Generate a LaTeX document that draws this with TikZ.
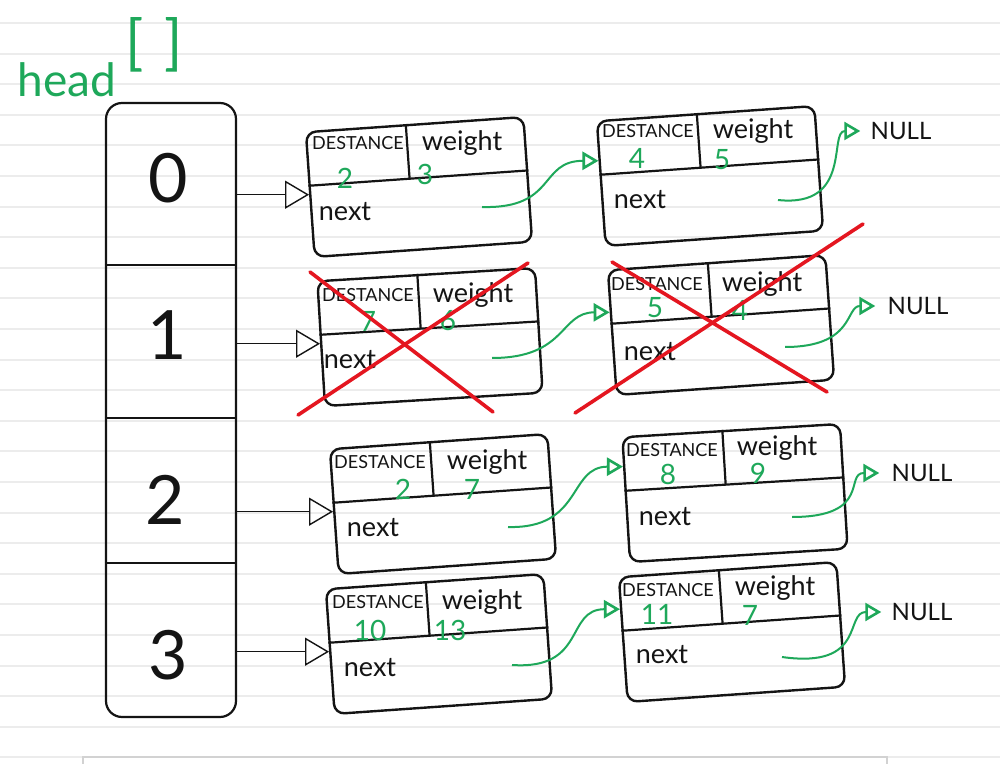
\documentclass[tikz,border=0pt]{standalone}
\usepackage{fontspec}
\setmainfont{Lato}
\usetikzlibrary{arrows.meta,calc}
\definecolor{pen}{RGB}{20,20,20}
\definecolor{grn}{RGB}{30,168,90}
\definecolor{redx}{RGB}{228,22,32}
\definecolor{rulec}{RGB}{236,236,236}
\definecolor{barc}{RGB}{210,210,210}
\tikzset{
 cell/.style={draw=pen, line width=1.2pt, rounded corners=5pt, minimum width=109pt, minimum height=62.5pt, inner sep=0pt},
 arrcol/.style={draw=pen, line width=1.1pt, rounded corners=8pt, minimum width=65pt, minimum height=307pt, inner sep=0pt},
 idx/.style={font=\fontsize{34}{36}\selectfont, text=pen, inner sep=0pt},
 lbl/.style={font=\fontsize{9}{10}\selectfont, text=pen, inner sep=0pt},
 wlbl/.style={font=\fontsize{13.5}{15}\selectfont, text=pen, inner sep=0pt},
 num/.style={font=\fontsize{14}{16}\selectfont, text=grn, inner sep=0pt},
 nulltxt/.style={font=\fontsize{12}{14}\selectfont, text=pen, inner sep=1pt},
 ptr/.style={draw=pen, line width=0.7pt, -{Triangle[open, length=12pt, width=14pt]}},
 link/.style={draw=grn, line width=1pt, -{Triangle[open, length=8pt, width=9pt, line width=1.3pt]}},
 cross/.style={draw=redx, line width=1.8pt, line cap=round},
 divider/.style={draw=pen, line width=1.1pt},
 paperrule/.style={draw=rulec, line width=1pt},
}
\newcommand{\lcell}[3]{%
  \node[cell, rotate=#3] (#1) at (#2) {};
  \coordinate (#1-l) at ($(#1.north west)!0.43!(#1.south west)$);
  \coordinate (#1-r) at ($(#1.north east)!0.43!(#1.south east)$);
  \draw[divider] (#1-l) -- (#1-r);
  \draw[divider] ($(#1.north west)!0.46!(#1.north east)$) -- ($(#1-l)!0.46!(#1-r)$);
}
\begin{document}
\begin{tikzpicture}[x=0.5pt, y=-0.5pt]
\useasboundingbox (0,0) rectangle (1000,764);
\fill[white] (0,0) rectangle (1000,764);
% ruled paper
\foreach \k in {0,...,24} \draw[paperrule] (0,{23+30.6*\k}) -- (1000,{23+30.6*\k});

% title
\node[text=grn, font=\fontsize{23}{25}\selectfont, anchor=base west, inner sep=0pt] (head) at (17,97) {head\hspace{5pt}{\fontsize{30}{30}\selectfont\raisebox{0.55em}{[\hspace{10pt}]}}};

% array column
\node[arrcol] (arr) at (171,410) {};
\draw[divider] ($(arr.north west)!0.265!(arr.south west)$) -- ($(arr.north east)!0.265!(arr.south east)$);
\draw[divider] ($(arr.north west)!0.513!(arr.south west)$) -- ($(arr.north east)!0.513!(arr.south east)$);
\draw[divider] ($(arr.north west)!0.748!(arr.south west)$) -- ($(arr.north east)!0.748!(arr.south east)$);
\node[idx] (i0) at (168,178) {0};
\node[idx] (i1) at (167,335) {1};
\node[idx] (i2) at (165,500) {2};
\node[idx] (i3) at (168,655) {3};

% list cells
\lcell{A}{419,187}{4}
\lcell{B}{710,176}{4}
\lcell{C}{430,337}{3.5}
\lcell{D}{721,325}{4}
\lcell{E}{443,504}{4}
\lcell{F}{439,644}{4}
\lcell{G}{735,493}{3.5}
\lcell{H}{732,632}{4}

% texts in cells
\node[lbl] (A-d) at (358,143) {DESTANCE};
\node[wlbl] (A-w) at (462,143) {weight};
\node[num] (A-dv) at (345,178) {2};
\node[num] (A-wv) at (425,174) {3};
\node[wlbl] (A-n) at (345,212) {next};

\node[lbl] (B-d) at (648,131) {DESTANCE};
\node[wlbl] (B-w) at (753,131) {weight};
\node[num] (B-dv) at (637,158) {4};
\node[num] (B-wv) at (722,160) {5};
\node[wlbl] (B-n) at (640,200) {next};

\node[lbl] (C-d) at (368,295) {DESTANCE};
\node[wlbl] (C-w) at (473,295) {weight};
\node[num] (C-dv) at (368,321) {7};
\node[num] (C-wv) at (448,321) {6};
\node[wlbl] (C-n) at (350,360) {next};

\node[lbl] (D-d) at (657,284) {DESTANCE};
\node[wlbl] (D-w) at (762,284) {weight};
\node[num] (D-dv) at (655,308) {5};
\node[num] (D-wv) at (740,310) {4};
\node[wlbl] (D-n) at (650,352) {next};

\node[lbl] (E-d) at (380,462) {DESTANCE};
\node[wlbl] (E-w) at (487,462) {weight};
\node[num] (E-dv) at (403,489) {2};
\node[num] (E-wv) at (472,489) {7};
\node[wlbl] (E-n) at (373,528) {next};

\node[lbl] (F-d) at (378,602) {DESTANCE};
\node[wlbl] (F-w) at (482,602) {weight};
\node[num] (F-dv) at (370,630) {10};
\node[num] (F-wv) at (450,630) {13};
\node[wlbl] (F-n) at (370,668) {next};

\node[lbl] (G-d) at (672,450) {DESTANCE};
\node[wlbl] (G-w) at (777,448) {weight};
\node[num] (G-dv) at (668,474) {8};
\node[num] (G-wv) at (758,473) {9};
\node[wlbl] (G-n) at (665,517) {next};

\node[lbl] (H-d) at (668,590) {DESTANCE};
\node[wlbl] (H-w) at (775,588) {weight};
\node[num] (H-dv) at (657,614) {11};
\node[num] (H-wv) at (750,615) {7};
\node[wlbl] (H-n) at (662,655) {next};

% NULL labels
\node[nulltxt] (nB) at (901,131) {NULL};
\node[nulltxt] (nD) at (918,306) {NULL};
\node[nulltxt] (nG) at (922,473) {NULL};
\node[nulltxt] (nH) at (922,612) {NULL};

% pointers from array
\draw[ptr] (arr.east |- A.west) -- (A.west);
\draw[ptr] (arr.east |- C.west) -- (C.west);
\draw[ptr] (arr.east |- E.west) -- (E.west);
\draw[ptr] (arr.east |- F.west) -- (F.west);

% next-pointer start points
\coordinate (A-p) at (482,207);
\coordinate (B-p) at (778,200);
\coordinate (C-p) at (492,358);
\coordinate (D-p) at (785,347);
\coordinate (E-p) at (508,527);
\coordinate (F-p) at (512,665);
\coordinate (G-p) at (792,517);
\coordinate (H-p) at (782,657);
% targets
\coordinate (B-in) at ($(B.north west)!0.32!(B.south west)$);
\coordinate (D-in) at ($(D.north west)!0.34!(D.south west)$);
\coordinate (G-in) at ($(G.north west)!0.24!(G.south west)$);
\coordinate (H-in) at ($(H.north west)!0.26!(H.south west)$);

\draw[link] (A-p) .. controls +(75,2) and +(-60,0) .. (B-in);
\draw[link] (C-p) .. controls +(75,0) and +(-50,0) .. (D-in);
\draw[link] (E-p) .. controls +(75,2) and +(-55,0) .. (G-in);
\draw[link] (F-p) .. controls +(75,5) and +(-55,0) .. (H-in);

\draw[link, shorten >=4pt] (B-p) .. controls +(75,8) and +(-40,0) .. (nB.west);
\draw[link, shorten >=5pt] (D-p) .. controls +(70,0) and +(-40,0) .. (nD.west);
\draw[link, shorten >=5pt] (G-p) .. controls +(80,0) and +(-45,0) .. (nG.west);
\draw[link, shorten >=4pt] (H-p) .. controls +(85,12) and +(-45,0) .. (nH.west);

% red crosses
\draw[cross] (310,272) -- (493,412);
\draw[cross] (298,415) -- (528,263);
\draw[cross] (612,262) -- (827,392);
\draw[cross] (575,413) -- (863,224);

% bottom toolbar edge
\fill[white] (83,757) rectangle (887,790);
\draw[barc, line width=0.8pt] (83,790) -- (83,757) -- (887,757) -- (887,790);
\end{tikzpicture}
\end{document}
